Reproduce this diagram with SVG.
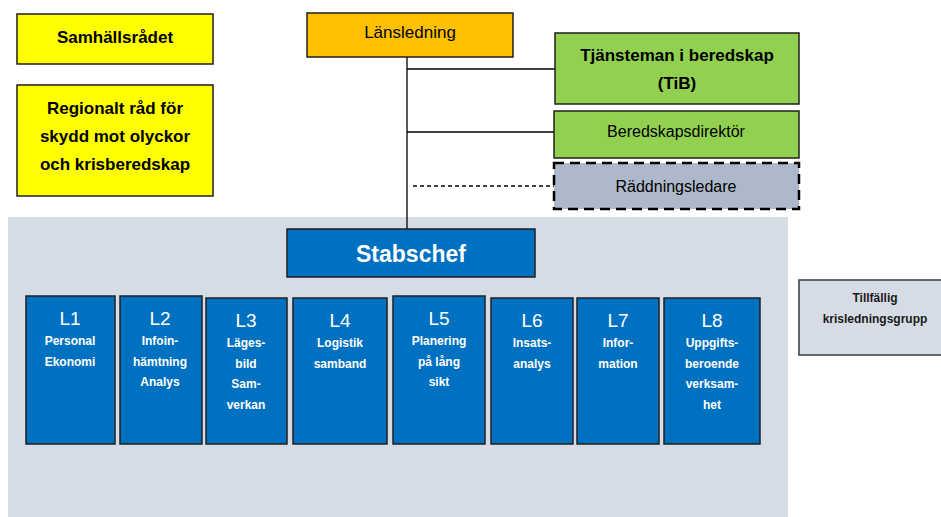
<svg xmlns="http://www.w3.org/2000/svg" width="941" height="517" viewBox="0 0 941 517">
<style>
.b{stroke:#1f1f1f;stroke-width:1.5}
.t{font-family:"Liberation Sans",Arial,sans-serif;text-anchor:middle}
.bold{font-weight:bold}
.w{fill:#fff;font-family:"Liberation Sans",Arial,sans-serif;font-weight:bold;text-anchor:middle}
.lh{font-size:19px;font-weight:normal}
.ls{font-size:12px}
.blue{fill:#0070C0;stroke:#1f1f1f;stroke-width:1.5}
</style>
<rect width="941" height="517" fill="#fff"/>
<rect id="bg" x="8" y="217" width="780" height="300" fill="#D6DCE5"/>
<g id="connectors" stroke="#000" stroke-width="1.3" fill="none">
<line x1="407" y1="56" x2="407" y2="229"/>
<line x1="407" y1="69" x2="555" y2="69"/>
<line x1="407" y1="132" x2="554" y2="132"/>
<line x1="413" y1="186" x2="554" y2="186" stroke-dasharray="4,3"/>
</g>
<g id="samhallsradet"><rect class="b" x="17" y="14" width="196" height="50" fill="#FFFF00"/><text class="t bold" x="115" y="43" font-size="17">Samhällsrådet</text></g>
<g id="regionalt"><rect class="b" x="17" y="85" width="196" height="111" fill="#FFFF00"/><text class="t bold" font-size="17"><tspan x="115" y="114">Regionalt råd för</tspan><tspan x="115" y="142">skydd mot olyckor</tspan><tspan x="115" y="170">och krisberedskap</tspan></text></g>
<g id="lansledning"><rect class="b" x="307" y="13" width="206" height="44" fill="#FFC000"/><text class="t" x="410" y="38" font-size="17">Länsledning</text></g>
<g id="tib"><rect class="b" x="555" y="33" width="244" height="71" fill="#92D050"/><text class="t bold" font-size="17"><tspan x="677" y="61">Tjänsteman i beredskap</tspan><tspan x="677" y="89">(TiB)</tspan></text></g>
<g id="beredskapsdirektor"><rect class="b" x="554" y="111" width="245" height="47" fill="#92D050"/><text class="t" x="676" y="137" font-size="16">Beredskapsdirektör</text></g>
<g id="raddningsledare"><rect x="554" y="163" width="245" height="46" fill="#ADB9CA" stroke="#000" stroke-width="2.5" stroke-dasharray="10,6"/><text class="t" x="676" y="192" font-size="16">Räddningsledare</text></g>
<g id="stabschef"><rect class="blue" x="287" y="229" width="248" height="48"/><text class="w" x="411" y="262" font-size="23">Stabschef</text></g>
<g id="L1"><rect class="blue" x="26" y="296" width="89" height="148"/><text class="w lh" x="70" y="325">L1</text><text class="w ls"><tspan x="70" y="345">Personal</tspan><tspan x="70" y="366">Ekonomi</tspan></text></g>
<g id="L2"><rect class="blue" x="120" y="296" width="82" height="148"/><text class="w lh" x="160" y="325">L2</text><text class="w ls"><tspan x="160" y="345">Infoin-</tspan><tspan x="160" y="366">hämtning</tspan><tspan x="160" y="386">Analys</tspan></text></g>
<g id="L3"><rect class="blue" x="206" y="298" width="81" height="146"/><text class="w lh" x="246" y="327">L3</text><text class="w ls"><tspan x="246" y="347">Läges-</tspan><tspan x="246" y="368">bild</tspan><tspan x="246" y="388">Sam-</tspan><tspan x="246" y="409">verkan</tspan></text></g>
<g id="L4"><rect class="blue" x="293" y="298" width="94" height="146"/><text class="w lh" x="340" y="327">L4</text><text class="w ls"><tspan x="340" y="347">Logistik</tspan><tspan x="340" y="368">samband</tspan></text></g>
<g id="L5"><rect class="blue" x="393" y="296" width="92" height="148"/><text class="w lh" x="439" y="325">L5</text><text class="w ls"><tspan x="439" y="345">Planering</tspan><tspan x="439" y="366">på lång</tspan><tspan x="439" y="386">sikt</tspan></text></g>
<g id="L6"><rect class="blue" x="491" y="298" width="82" height="146"/><text class="w lh" x="532" y="327">L6</text><text class="w ls"><tspan x="532" y="347">Insats-</tspan><tspan x="532" y="368">analys</tspan></text></g>
<g id="L7"><rect class="blue" x="577" y="298" width="82" height="146"/><text class="w lh" x="618" y="327">L7</text><text class="w ls"><tspan x="618" y="347">Infor-</tspan><tspan x="618" y="368">mation</tspan></text></g>
<g id="L8"><rect class="blue" x="664" y="298" width="96" height="146"/><text class="w lh" x="712" y="327">L8</text><text class="w ls"><tspan x="712" y="347">Uppgifts-</tspan><tspan x="712" y="368">beroende</tspan><tspan x="712" y="388">verksam-</tspan><tspan x="712" y="409">het</tspan></text></g>
<g id="tillfallig"><rect x="799" y="280" width="145" height="75" fill="#D6DCE5" stroke="#3a3a3a" stroke-width="1.5"/><text class="t bold" font-size="12" fill="#1a1a1a"><tspan x="875" y="302">Tillfällig</tspan><tspan x="875" y="323">krisledningsgrupp</tspan></text></g>
</svg>
